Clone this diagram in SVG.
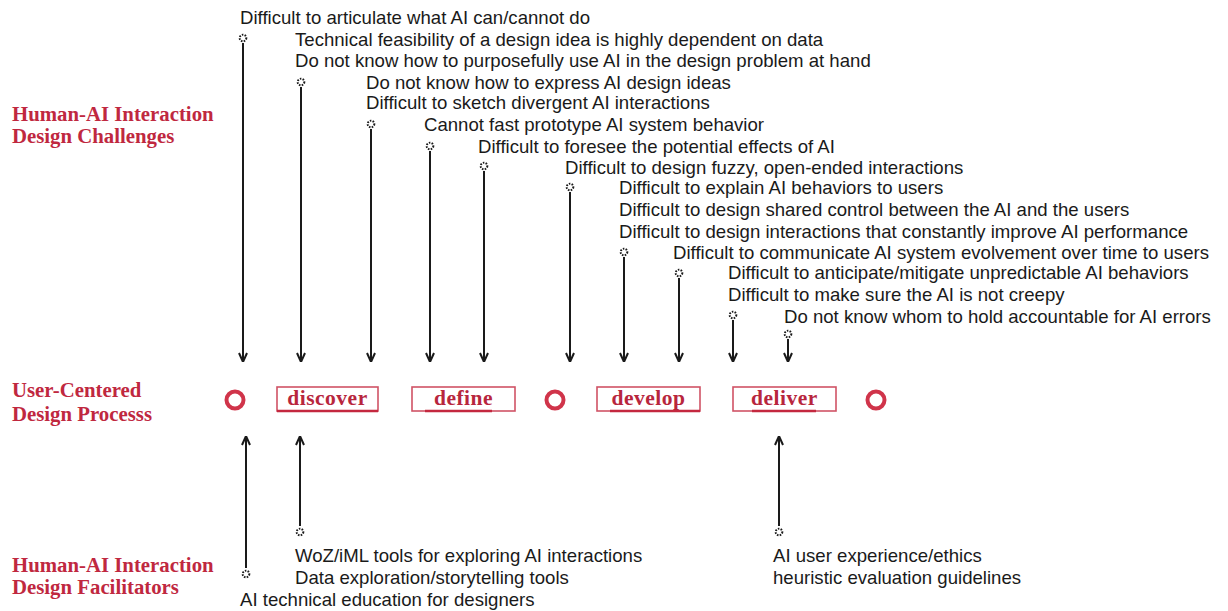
<svg xmlns="http://www.w3.org/2000/svg" width="1228" height="611" viewBox="0 0 1228 611">
<style>
.t{font-family:"Liberation Sans",Arial,sans-serif;font-size:18.6px;fill:#1a1a1a}
.lbl{font-family:"Liberation Serif","Times New Roman",serif;font-weight:bold;font-size:20.8px;fill:#c0283f}
.box{fill:none;stroke:#c4283f;stroke-width:1.6;stroke-opacity:0.8}
.boxb{stroke:#c4283f;stroke-width:2.6}
.bt{font-family:"Liberation Serif","Times New Roman",serif;font-weight:bold;font-size:21.5px;fill:#b8263d;text-anchor:middle;letter-spacing:0.5px}
.ring{fill:none;stroke:#d0344a;stroke-width:4}
.ar{stroke:#1a1a1a;stroke-width:2;fill:none}
.dot{fill:none;stroke:#1a1a1a;stroke-width:2;stroke-dasharray:1.5 1.3}
</style>
<defs>
<marker id="ah" viewBox="0 0 10 10" refX="10" refY="5" markerWidth="10" markerHeight="10" markerUnits="userSpaceOnUse" orient="auto">
<path d="M1,1 L10,5 L1,9" fill="none" stroke="#1a1a1a" stroke-width="2"/>
</marker>
<symbol id="d" viewBox="-5 -5 10 10" width="10" height="10" overflow="visible">
<circle r="3.3" class="dot"/>
</symbol>
</defs>
<rect width="1228" height="611" fill="#ffffff"/>

<g id="labels">
<text class="lbl" x="12" y="121">Human-AI Interaction</text>
<text class="lbl" x="12" y="143">Design Challenges</text>
<text class="lbl" x="12" y="397">User-Centered</text>
<text class="lbl" x="12" y="421">Design Processs</text>
<text class="lbl" x="12" y="572">Human-AI Interaction</text>
<text class="lbl" x="12" y="594">Design Facilitators</text>
</g>

<g id="challenges">
<text class="t" x="240" y="24">Difficult to articulate what AI can/cannot do</text>
<text class="t" x="295" y="46">Technical feasibility of a design idea is highly dependent on data</text>
<text class="t" x="295" y="67">Do not know how to purposefully use AI in the design problem at hand</text>
<text class="t" x="366" y="89">Do not know how to express AI design ideas</text>
<text class="t" x="366" y="109">Difficult to sketch divergent AI interactions</text>
<text class="t" x="424" y="131">Cannot fast prototype AI system behavior</text>
<text class="t" x="478" y="153">Difficult to foresee the potential effects of AI</text>
<text class="t" x="565" y="174">Difficult to design fuzzy, open-ended interactions</text>
<text class="t" x="619" y="194">Difficult to explain AI behaviors to users</text>
<text class="t" x="619" y="216">Difficult to design shared control between the AI and the users</text>
<text class="t" x="619" y="238">Difficult to design interactions that constantly improve AI performance</text>
<text class="t" x="673" y="259">Difficult to communicate AI system evolvement over time to users</text>
<text class="t" x="728" y="279">Difficult to anticipate/mitigate unpredictable AI behaviors</text>
<text class="t" x="728" y="301">Difficult to make sure the AI is not creepy</text>
<text class="t" x="784" y="323">Do not know whom to hold accountable for AI errors</text>
</g>

<g id="facilitators">
<text class="t" x="295" y="562">WoZ/iML tools for exploring AI interactions</text>
<text class="t" x="295" y="584">Data exploration/storytelling tools</text>
<text class="t" x="240" y="606">AI technical education for designers</text>
<text class="t" x="773" y="562">AI user experience/ethics</text>
<text class="t" x="773" y="584">heuristic evaluation guidelines</text>
</g>

<g id="process">
<g id="start"><circle class="ring" cx="235" cy="400" r="8.5"/></g>
<g id="discover">
<rect class="box" x="277" y="387" width="101" height="24"/>
<line class="boxb" x1="277" y1="411" x2="378" y2="411"/>
<text class="bt" x="327.5" y="405">discover</text>
</g>
<g id="define">
<rect class="box" x="412" y="387" width="103" height="24"/>
<line class="boxb" x1="425" y1="411" x2="492" y2="411"/>
<text class="bt" x="463.5" y="405">define</text>
</g>
<g id="mid"><circle class="ring" cx="555" cy="400" r="8.5"/></g>
<g id="develop">
<rect class="box" x="597" y="387" width="103" height="24"/>
<line class="boxb" x1="610" y1="411" x2="700" y2="411"/>
<text class="bt" x="648.5" y="405">develop</text>
</g>
<g id="deliver">
<rect class="box" x="733" y="387" width="103" height="24"/>
<line class="boxb" x1="752" y1="411" x2="816" y2="411"/>
<text class="bt" x="784.5" y="405">deliver</text>
</g>
<g id="end"><circle class="ring" cx="876" cy="400" r="8.5"/></g>
</g>

<g id="connectors">
<use href="#d" x="238" y="33"/>
<line class="ar" x1="243" y1="43" x2="243" y2="362" marker-end="url(#ah)"/>
<use href="#d" x="296" y="77"/>
<line class="ar" x1="301" y1="87" x2="301" y2="362" marker-end="url(#ah)"/>
<use href="#d" x="366" y="119"/>
<line class="ar" x1="371" y1="129" x2="371" y2="362" marker-end="url(#ah)"/>
<use href="#d" x="425" y="141"/>
<line class="ar" x1="430" y1="151" x2="430" y2="362" marker-end="url(#ah)"/>
<use href="#d" x="479" y="161"/>
<line class="ar" x1="484" y1="171" x2="484" y2="362" marker-end="url(#ah)"/>
<use href="#d" x="565" y="182"/>
<line class="ar" x1="570" y1="192" x2="570" y2="362" marker-end="url(#ah)"/>
<use href="#d" x="619" y="247"/>
<line class="ar" x1="624" y1="257" x2="624" y2="362" marker-end="url(#ah)"/>
<use href="#d" x="674" y="268"/>
<line class="ar" x1="679" y1="278" x2="679" y2="362" marker-end="url(#ah)"/>
<use href="#d" x="728" y="310"/>
<line class="ar" x1="733" y1="320" x2="733" y2="362" marker-end="url(#ah)"/>
<use href="#d" x="783" y="329"/>
<line class="ar" x1="788" y1="339" x2="788" y2="362" marker-end="url(#ah)"/>

<use href="#d" x="241" y="569"/>
<line class="ar" x1="246" y1="568" x2="246" y2="436" marker-end="url(#ah)"/>
<use href="#d" x="295" y="527"/>
<line class="ar" x1="300" y1="526" x2="300" y2="436" marker-end="url(#ah)"/>
<use href="#d" x="774" y="527"/>
<line class="ar" x1="779" y1="526" x2="779" y2="436" marker-end="url(#ah)"/>
</g>
</svg>
